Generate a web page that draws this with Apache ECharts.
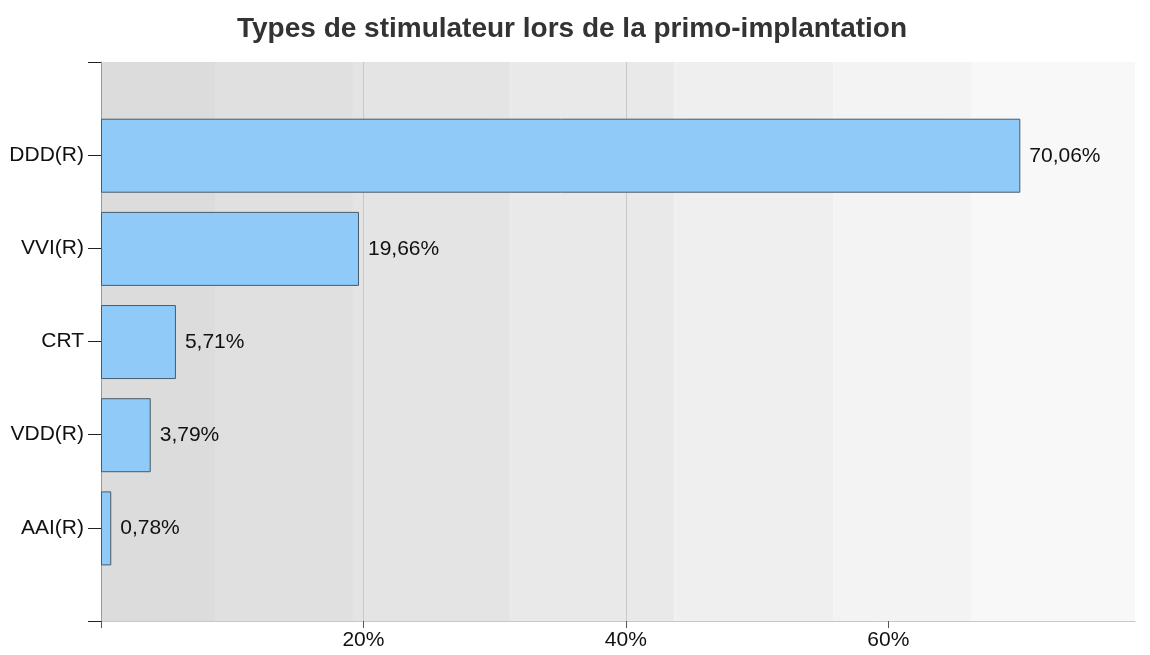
<!DOCTYPE html>
<html>
<head>
<meta charset="utf-8">
<script src="https://cdn.jsdelivr.net/npm/echarts@6/dist/echarts.min.js"></script>
<style>html,body{margin:0;padding:0;background:#fff}#c{width:1150px;height:655px}</style>
</head>
<body>
<div id="c"></div>
<script>
// Data
var title = 'Types de stimulateur lors de la primo-implantation';
var categories = ['AAI(R)', 'VDD(R)', 'CRT', 'VVI(R)', 'DDD(R)'];
var values = [0.78, 3.79, 5.71, 19.66, 70.06];
var xTicks = [0, 20, 40, 60];
var xLabels = [20, 40, 60];
var xMax = 78.8;
// background band edges (percent units) and shades
var bandEdges = [0, 8.69, 19.2, 31.2, 43.7, 55.8, 66.3, 78.8];
var bandColors = ['#dcdcdc', '#e0e0e0', '#e4e4e4', '#e9e9e9', '#efefef', '#f3f3f3', '#f8f8f8'];

var yCats = [''].concat(categories).concat(['']);
var barData = [null].concat(values).concat([null]);
var areas = [];
for (var i = 0; i < bandColors.length; i++) {
  areas.push([{xAxis: bandEdges[i], itemStyle: {color: bandColors[i]}}, {xAxis: bandEdges[i + 1]}]);
}
var font = 'Liberation Sans, Arial, sans-serif';
var chart = echarts.init(document.getElementById('c'), null, {renderer: 'canvas'});
chart.setOption({
  animation: false,
  title: {
    text: title, left: 232, top: 10,
    textStyle: {fontFamily: font, fontSize: 28, fontWeight: 'bold', color: '#333'}
  },
  grid: {left: 101, right: 15, top: 62, bottom: 34, containLabel: false},
  xAxis: {
    type: 'value', min: 0, max: xMax, interval: 20, z: 1,
    axisLine: {show: true, lineStyle: {color: '#c8c8c8', width: 1}},
    axisTick: {show: true, length: 7, lineStyle: {color: '#555'}, customValues: xTicks},
    splitLine: {show: true, showMinLine: false, showMaxLine: false, lineStyle: {color: '#c8c8c8', width: 1}},
    axisLabel: {
      fontFamily: font, fontSize: 21, color: '#111', margin: 9, customValues: xLabels,
      formatter: function (v) { return v + '%'; }
    }
  },
  yAxis: {
    type: 'category', data: yCats, boundaryGap: false, z: 1,
    axisLine: {show: true, lineStyle: {color: '#999', width: 1}},
    axisTick: {show: true, length: 13, lineStyle: {color: '#222'}},
    axisLabel: {fontFamily: font, fontSize: 21, color: '#111', margin: 17, interval: 0},
    splitLine: {show: false}
  },
  series: [
    {
      type: 'bar', data: [], z: 0, silent: true,
      markArea: {silent: true, z: 0, data: areas}
    },
    {
      type: 'bar', data: barData, barWidth: 74, z: 2,
      itemStyle: {color: '#90caf9', borderColor: '#4a5a66', borderWidth: 1},
      label: {
        show: true, position: 'right', distance: 9,
        fontFamily: font, fontSize: 21, color: '#111',
        formatter: function (p) { return p.value == null ? '' : p.value.toFixed(2).replace('.', ',') + '%'; }
      }
    }
  ]
});
</script>
</body>
</html>
